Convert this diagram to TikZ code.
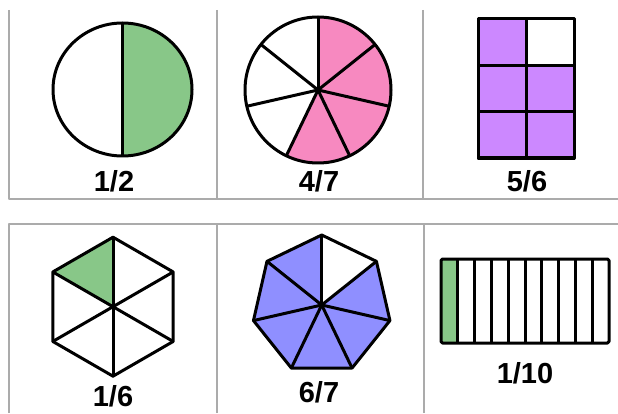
\documentclass[tikz,border=0pt]{standalone}
\usepackage{fontspec}
\setmainfont{Liberation Sans}
\usepackage{tikz}
\usetikzlibrary{calc}
\definecolor{fr-green}{HTML}{88C788}
\definecolor{fr-pink}{HTML}{F789C0}
\definecolor{fr-purple}{HTML}{CC88FF}
\definecolor{fr-blue}{HTML}{8F8FFF}
\definecolor{fr-rule}{HTML}{ABABAB}

\begin{document}
\begin{tikzpicture}[x=1pt, y=1pt, line join=round,
    rule/.style={fr-rule, line width=2pt},
    part/.style={draw=black, line width=3pt},
    lbl/.style={font=\bfseries\fontsize{29}{29}\selectfont, inner sep=0pt, anchor=base}]
    \useasboundingbox (0,0) rectangle (618,413);
    % table lines
    \draw[rule] (9,403) -- (9,214) -- (618,214);
    \draw[rule] (217,403) -- (217,214);
    \draw[rule] (423,403) -- (423,214);
    \draw[rule] (9,0) -- (9,189.5) -- (618,189.5);
    \draw[rule] (217,0) -- (217,189.5);
    \draw[rule] (424,0) -- (424,189.5);

    % 1/2
    \coordinate (C1) at (122.5,323.5);
    \fill[fr-green] (C1) ++(0,66.5) arc[start angle=90, end angle=-90, x radius=69.5, y radius=66.5] -- cycle;
    \draw[part] (C1) ellipse [x radius=69.5, y radius=66.5];
    \draw[part] ($(C1)+(0,66.5)$) -- ($(C1)+(0,-66.5)$);
    \node[lbl] (L1) at (114,222) {1/2};

    % 4/7
    \coordinate (C2) at (318,323);
    \fill[fr-pink] (C2) -- ++(90:73) arc[start angle=90, end angle=-115.71, radius=73] -- cycle;
    \foreach \k in {0,...,6}
        \draw[part] (C2) -- ++({90-\k*360/7}:73);
    \draw[part] (C2) circle[radius=73];
    \node[lbl] (L2) at (319,222) {4/7};

    % 5/6
    \fill[fr-purple] (478,255) rectangle (574,394);
    \fill[white] (526,394) rectangle (574,347.7);
    \draw[part] (478,255) rectangle (574,394);
    \draw[part] (526,255) -- (526,394);
    \draw[part] (478,347.7) -- (574,347.7);
    \draw[part] (478,301.3) -- (574,301.3);
    \node[lbl] (L3) at (527,222) {5/6};

    % 1/6
    \coordinate (C4) at (113,106.3);
    \foreach \k in {0,...,5}
        \coordinate (H\k) at ($(C4)+({90+\k*60}:69.5)$);
    \fill[fr-green] (C4) -- (H0) -- (H1) -- cycle;
    \foreach \k in {0,...,5}
        \draw[part] (C4) -- (H\k);
    \draw[part] (H0) -- (H1) -- (H2) -- (H3) -- (H4) -- (H5) -- cycle;
    \node[lbl] (L4) at (113,6.5) {1/6};

    % 6/7
    \coordinate (C5) at (321.7,108);
    \foreach \k in {0,...,6}
        \coordinate (S\k) at ($(C5)+({90-\k*360/7}:70)$);
    \fill[fr-blue] (S0) -- (S1) -- (S2) -- (S3) -- (S4) -- (S5) -- (S6) -- cycle;
    \fill[white] (C5) -- (S0) -- (S1) -- cycle;
    \foreach \k in {0,...,6}
        \draw[part] (C5) -- (S\k);
    \draw[part] (S0) -- (S1) -- (S2) -- (S3) -- (S4) -- (S5) -- (S6) -- cycle;
    \node[lbl] (L5) at (319,11) {6/7};

    % 1/10
    \fill[fr-green] (441,70) rectangle (457.8,154);
    \foreach \k in {1,...,9}
        \draw[part] ({441+\k*16.8},70) -- ({441+\k*16.8},154);
    \draw[part, rounded corners=1.5pt] (441,70) rectangle (609,154);
    \node[lbl] (L6) at (525,30) {1/10};
\end{tikzpicture}
\end{document}
